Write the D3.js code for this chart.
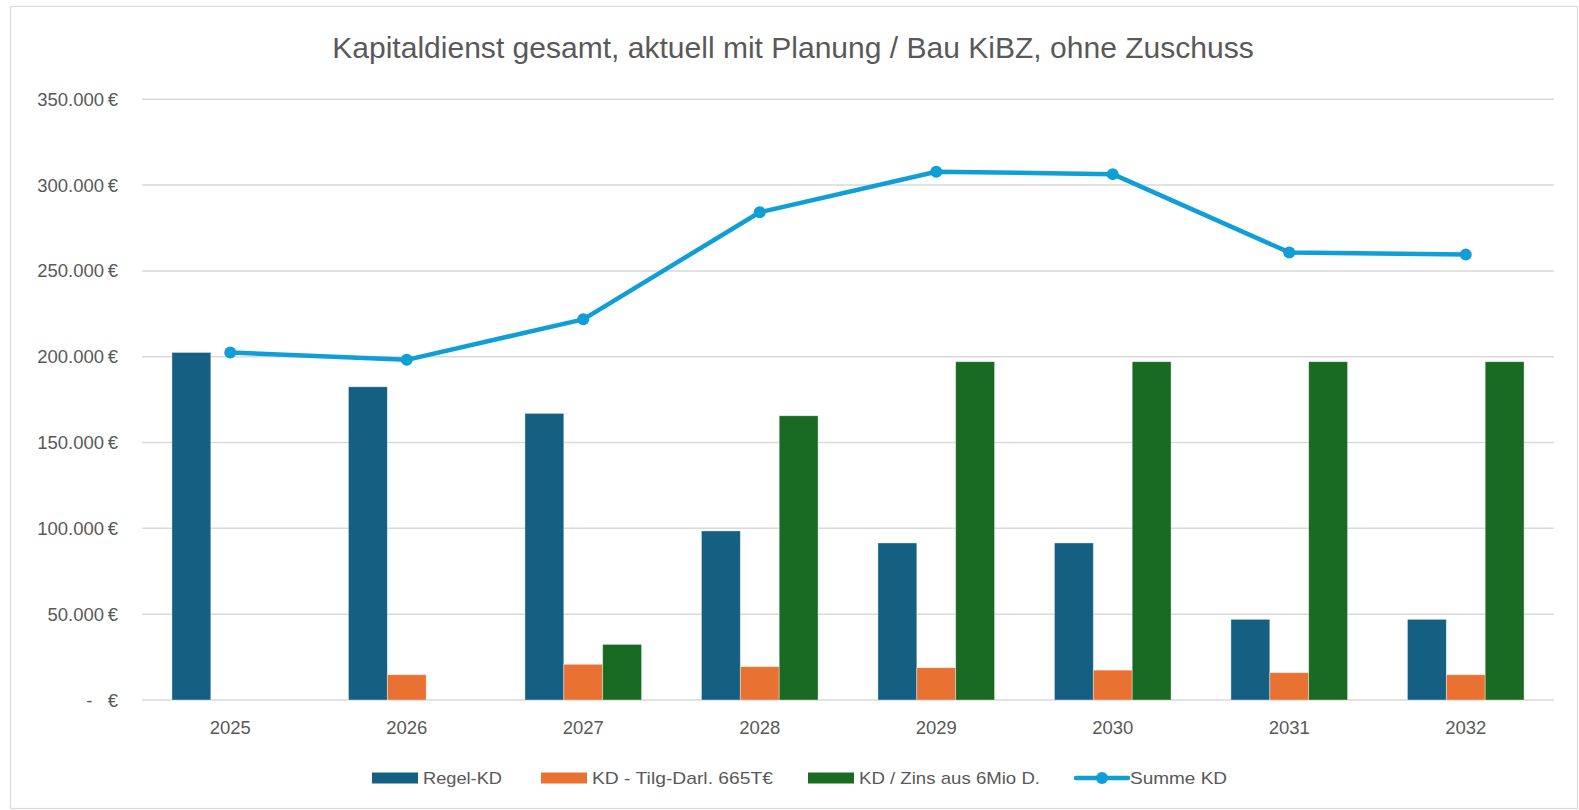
<!DOCTYPE html>
<html><head><meta charset="utf-8">
<script src="https://cdn.jsdelivr.net/npm/d3@7"></script>
<style>
html,body{margin:0;padding:0;background:#fff;}
svg{display:block;}
text{font-family:"Liberation Sans",Arial,sans-serif;fill:#595959;}
</style></head>
<body>
<svg id="chart" width="1579" height="810"></svg>
<script>
const title = "Kapitaldienst gesamt, aktuell mit Planung / Bau KiBZ, ohne Zuschuss";
const years = ["2025","2026","2027","2028","2029","2030","2031","2032"];
const regelKD = [202500,182500,167000,98500,91500,91500,47000,47000];
const tilgDarl = [0,14700,20800,19400,18800,17400,15900,14700];
const zins6Mio = [0,0,32400,165600,197100,197100,197100,197100];
const summeKD = [202500,198200,221800,284200,307800,306400,260800,259500];
const yTicks = [0,50000,100000,150000,200000,250000,300000,350000];
const seriesNames = ["Regel-KD","KD - Tilg-Darl. 665T€","KD / Zins aus 6Mio D.","Summe KD"];
const colors = ["#156082","#E97132","#196B24","#0F9ED5"];

(function(){
const svg = d3.select("#chart");
svg.append("rect").attr("x",10.5).attr("y",6.5).attr("width",1567).attr("height",802)
  .attr("fill","#fff").attr("stroke","#d9d9d9").attr("stroke-width",1.2);

const pl = 142, pr = 1554, pt = 99.3, pb = 700;
const y = d3.scaleLinear().domain([0,350000]).range([pb, pt]);
const x = d3.scaleBand().domain(years).range([pl,pr]).paddingInner(0).paddingOuter(0);
const step = x.bandwidth();
const gap = 1.54;
const barW = step/(3+gap);
const sub = d3.scaleBand().domain([0,1,2]).range([0,3*barW]);
const offset = (step-3*barW)/2;

svg.append("g").selectAll("line").data(yTicks).join("line")
  .attr("x1",pl).attr("x2",pr)
  .attr("y1",d=>y(d)).attr("y2",d=>y(d))
  .attr("stroke","#d9d9d9").attr("stroke-width",1.5);

const fmt = d => d===0 ? "-   €" : d3.format(",")(d).replace(/,/g,".")+"\u2009€";
svg.append("g").selectAll("text").data(yTicks).join("text")
  .attr("x",118).attr("y",d=>y(d)+6.5)
  .attr("text-anchor","end").attr("font-size",18.5)
  .style("white-space","pre")
  .text(fmt);

svg.append("g").selectAll("text").data(years).join("text")
  .attr("x",d=>x(d)+step/2).attr("y",734)
  .attr("text-anchor","middle").attr("font-size",18.5)
  .text(d=>d);

const barSeries = [regelKD,tilgDarl,zins6Mio];
barSeries.forEach((vals,si)=>{
  svg.append("g").selectAll("rect").data(vals).join("rect")
    .attr("x",(d,i)=>x(years[i])+offset+sub(si))
    .attr("y",d=>y(d))
    .attr("width",barW)
    .attr("height",d=>pb-y(d))
    .attr("fill",colors[si])
    .attr("stroke",d=>d>0?"#ffffff":"none").attr("stroke-opacity",0.5).attr("stroke-width",0.75);
});

const line = d3.line().x((d,i)=>x(years[i])+step/2).y(d=>y(d));
svg.append("path").datum(summeKD).attr("d",line)
  .attr("fill","none").attr("stroke",colors[3]).attr("stroke-width",4.5)
  .attr("stroke-linejoin","round").attr("stroke-linecap","round");
svg.append("g").selectAll("circle").data(summeKD).join("circle")
  .attr("cx",(d,i)=>x(years[i])+step/2).attr("cy",d=>y(d)).attr("r",6)
  .attr("fill",colors[3]);

const t = svg.append("text").attr("x",793).attr("y",58).attr("text-anchor","middle")
  .attr("font-family","'Open Sans',sans-serif").attr("font-size",28).text(title);
const tw = t.node().getComputedTextLength();
t.attr("font-size",28*922/tw);

const legend = [
  {sx:372, sw:46, tx:423, tw:79, type:"bar"},
  {sx:541, sw:46, tx:592, tw:181, type:"bar"},
  {sx:808, sw:46, tx:859, tw:181, type:"bar"},
  {sx:1076, sw:52, tx:1130, tw:97, type:"line"}
];
const ly = 778;
legend.forEach((L,i)=>{
  if(L.type==="bar"){
    svg.append("rect").attr("x",L.sx).attr("y",ly-5.5).attr("width",L.sw).attr("height",11).attr("fill",colors[i]);
  } else {
    svg.append("line").attr("x1",L.sx).attr("x2",L.sx+L.sw).attr("y1",ly).attr("y2",ly)
      .attr("stroke",colors[i]).attr("stroke-width",4.5).attr("stroke-linecap","round");
    svg.append("circle").attr("cx",L.sx+L.sw/2).attr("cy",ly).attr("r",6).attr("fill",colors[i]);
  }
  svg.append("text").attr("x",L.tx).attr("y",ly+6).attr("font-size",17)
    .attr("textLength",L.tw).attr("lengthAdjust","spacingAndGlyphs")
    .text(seriesNames[i]);
});
})();
</script>
</body></html>
